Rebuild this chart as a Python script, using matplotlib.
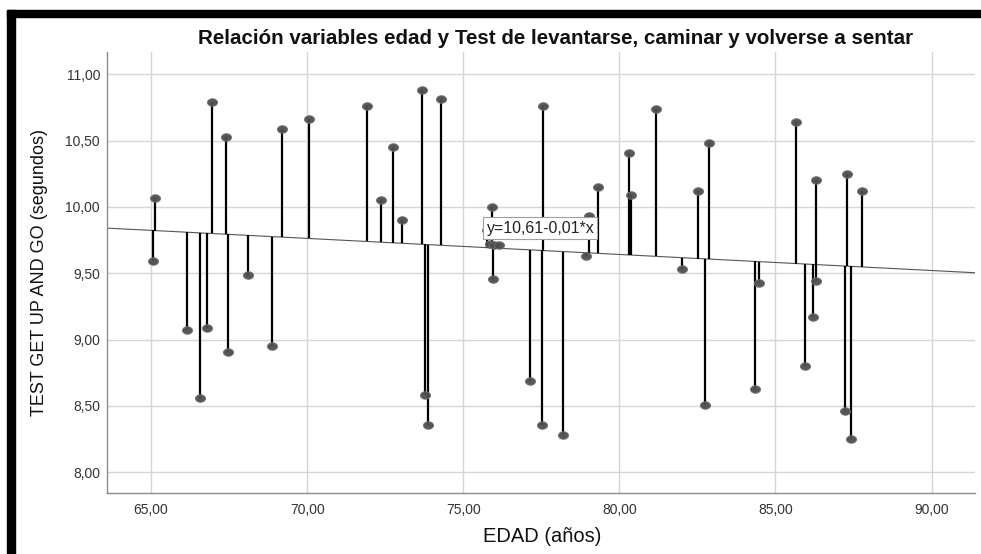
import numpy as np
import matplotlib
matplotlib.use("Agg")
import matplotlib.pyplot as plt
from matplotlib.path import Path
from matplotlib.patches import Rectangle

plt.rcParams['font.family'] = ['Liberation Sans', 'DejaVu Sans']

# ---- data ----
edad = [65.13, 65.07, 66.16, 66.57, 66.80, 66.94, 67.40, 67.48, 68.10, 68.86,
        69.19, 70.06, 71.91, 72.37, 72.76, 73.03, 73.68, 73.78, 73.86, 74.28,
        75.91, 75.75, 75.96, 75.85, 75.99, 76.14, 77.14, 77.51, 77.56, 78.18,
        78.93, 79.03, 79.31, 80.32, 80.36, 81.16, 82.02, 82.52, 82.74, 82.88,
        84.35, 84.47, 85.65, 85.96, 86.20, 86.30, 86.30, 87.29, 87.23, 87.41,
        87.77]
tug = [10.07, 9.59, 9.07, 8.56, 9.09, 10.79, 10.53, 8.91, 9.49, 8.95,
       10.59, 10.66, 10.76, 10.05, 10.45, 9.90, 10.88, 8.58, 8.36, 10.81,
       10.00, 9.83, 9.46, 9.72, 9.71, 9.71, 8.69, 8.36, 10.76, 8.28,
       9.63, 9.93, 10.15, 10.41, 10.09, 10.74, 9.53, 10.12, 8.51, 10.48,
       8.63, 9.43, 10.64, 8.80, 9.17, 9.44, 10.20, 10.25, 8.46, 8.25,
       10.12]
fit_intercept = 10.61
fit_slope = -0.0121
fit_label = "y=10,61-0,01*x"

x_ticks = [65, 70, 75, 80, 85, 90]
x_ticklabels = ["65,00", "70,00", "75,00", "80,00", "85,00", "90,00"]
y_ticks = [8.0, 8.5, 9.0, 9.5, 10.0, 10.5, 11.0]
y_ticklabels = ["8,00", "8,50", "9,00", "9,50", "10,00", "10,50", "11,00"]

title = "Relación variables edad y Test de levantarse, caminar y volverse a sentar"
xlabel = "EDAD (años)"
ylabel = "TEST GET UP AND GO (segundos)"

# ---- figure ----
W, H = 981, 554
fig = plt.figure(figsize=(W / 100, H / 100), dpi=100)
fig.patch.set_facecolor('white')

def fx(px):
    return px / W

def fy(py):
    return 1 - py / H

ax = fig.add_axes([fx(107), fy(493), fx(975) - fx(107), fy(52) - fy(493)])
ax.set_xlim(63.59, 91.39)
ax.set_ylim(7.844, 11.168)

ax.set_xticks(x_ticks)
ax.set_xticklabels(x_ticklabels)
ax.set_yticks(y_ticks)
ax.set_yticklabels(y_ticklabels)
ax.tick_params(length=0, labelsize=10, labelcolor='#333333')
ax.tick_params(axis='y', pad=5)
ax.tick_params(axis='x', pad=7)

ax.grid(True, color='#d6d6d6', linewidth=1.0)
ax.set_axisbelow(True)
for s in ['top', 'right']:
    ax.spines[s].set_visible(False)
for s in ['left', 'bottom']:
    ax.spines[s].set_color('#8c8c8c')
    ax.spines[s].set_linewidth(1.0)

x = np.array(edad)
y = np.array(tug)
xl = np.array(ax.get_xlim())
ax.plot(xl, fit_intercept + fit_slope * xl, color='#555555', lw=0.8, zorder=2)

yfit = fit_intercept + fit_slope * x
ax.vlines(x, yfit, y, color='black', lw=1.6, zorder=3)

t = np.linspace(0, 2 * np.pi, 40)
ell = Path(np.column_stack([np.cos(t), 0.75 * np.sin(t)]), closed=True)
ax.plot(x, y, linestyle='none', marker=ell, markersize=7.2,
        markerfacecolor='#4d4d4d', markeredgecolor='#707070', markeredgewidth=0.7,
        alpha=0.95, zorder=4)

ax.text(77.47, 9.84, fit_label, ha='center', va='center', fontsize=11.5,
        color='#222222', zorder=6,
        bbox=dict(boxstyle='square,pad=0.2', fc='white', ec='#a0a0a0', lw=0.8))

fig.text(fx(555), fy(38), title, ha='center', va='center', fontsize=14.8,
         fontweight='bold', color='#111111')
fig.text(fx(542), fy(537), xlabel, ha='center', va='center', fontsize=14.5,
         color='#111111')
fig.text(fx(40), fy(272), ylabel, ha='center', va='center', fontsize=13,
         rotation=90, color='#111111')

# black frame of the screenshot
fig.add_artist(Rectangle((fx(7), fy(17)), 1 - fx(7), fy(10) - fy(17),
                         transform=fig.transFigure, color='black', zorder=10))
fig.add_artist(Rectangle((fx(7), 0), fx(15) - fx(7), fy(10),
                         transform=fig.transFigure, color='black', zorder=10))

fig.savefig("out.png", dpi=100)
